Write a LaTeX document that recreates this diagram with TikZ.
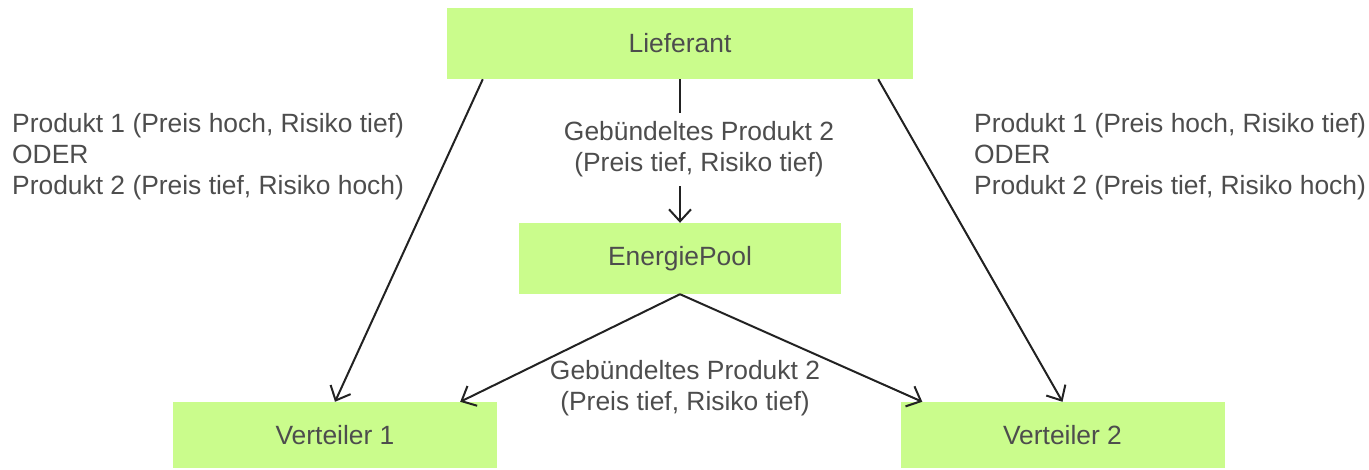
\documentclass[tikz,border=0pt]{standalone}
\usepackage{fontspec}
\setmainfont{Liberation Sans}
\usetikzlibrary{arrows.meta}
\definecolor{boxgreen}{RGB}{202,252,140}
\definecolor{textgray}{RGB}{77,77,77}
\definecolor{linegray}{RGB}{34,34,34}
\tikzset{
    box/.style={
        rectangle,
        fill=boxgreen,
        text=textgray,
        inner sep=0pt,
        font=\fontsize{26.4}{31}\selectfont
    },
    flowlabel/.style={
        text=textgray,
        inner sep=0pt,
        font=\fontsize{26.4}{31}\selectfont
    },
    flow/.style={
        draw=linegray,
        line width=2pt,
        -{Straight Barb[length=12pt,width=22pt,line width=2pt]}
    }
}

\begin{document}
\begin{tikzpicture}[x=1pt,y=-1pt]
    \useasboundingbox (0,0) rectangle (1369,470);

    \node[box, minimum width=466pt, minimum height=71pt] (lief) at (680, 43.5) {Lieferant};
    \node[box, minimum width=322pt, minimum height=71pt] (pool) at (680, 258.5) {EnergiePool};
    \node[box, minimum width=324pt, minimum height=66pt] (vert1) at (335, 435) {Verteiler 1};
    \node[box, minimum width=324pt, minimum height=66pt] (vert2) at (1062.5, 435) {Verteiler 2};

    \node[flowlabel, align=left, anchor=west] (wahllinks) at (12, 157)
        {Produkt 1 (Preis hoch, Risiko tief)\\ODER\\Produkt 2 (Preis tief, Risiko hoch)};
    \node[flowlabel, align=left, anchor=west] (wahlrechts) at (974, 157)
        {Produkt 1 (Preis hoch, Risiko tief)\\ODER\\Produkt 2 (Preis tief, Risiko hoch)};
    \node[flowlabel, align=center] (buendelunten) at (685, 388)
        {Gebündeltes Produkt 2\\(Preis tief, Risiko tief)};

    \draw[flow] ([xshift=36pt]lief.south west) -- (vert1.north);
    \draw[flow] ([xshift=-35pt]lief.south east) -- (vert2.north);
    \draw[flow] (lief.south) -- node[flowlabel, pos=0.49, xshift=19pt, fill=white, inner ysep=9pt, inner xsep=2pt, align=center] (buendeloben)
        {Gebündeltes Produkt 2\\(Preis tief, Risiko tief)} (pool.north);
    \draw[flow] (pool.south) -- ([xshift=-37pt]vert1.north east);
    \draw[flow] (pool.south) -- ([xshift=22pt]vert2.north west);

\end{tikzpicture}
\end{document}
